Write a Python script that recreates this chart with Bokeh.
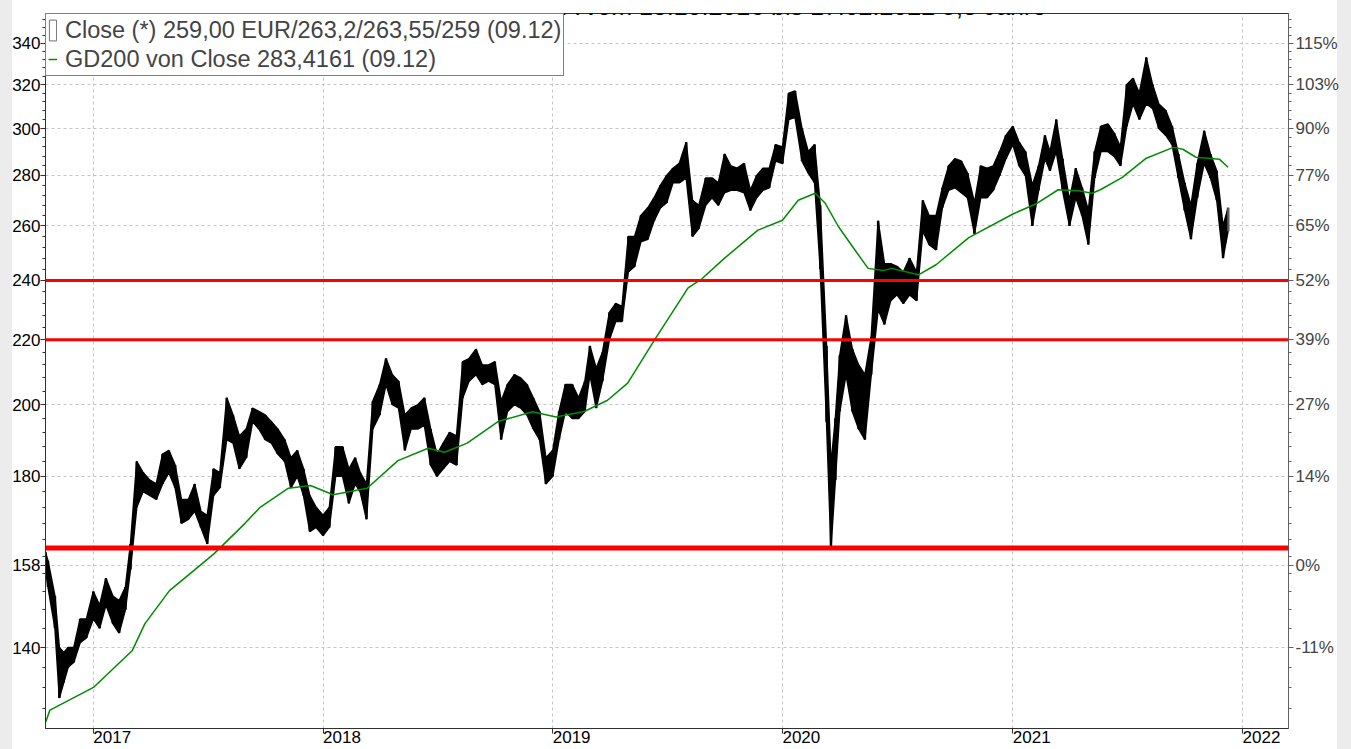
from datetime import datetime
import pandas as pd
from bokeh.plotting import figure
from bokeh.models import (FixedTicker, LogAxis, DatetimeAxis, Span, Legend, LegendItem, Label,
                          ColumnDataSource, PrintfTickFormatter)
from bokeh.embed import file_html
from bokeh.resources import INLINE

# ---------------- data ----------------
dates = ["2016-10-17", "2016-10-21", "2016-11-01", "2016-11-08", "2016-11-15", "2016-11-22",
         "2016-12-01", "2016-12-11", "2016-12-21",
         "2017-01-01", "2017-01-11", "2017-01-21", "2017-02-01", "2017-02-11", "2017-02-21",
         "2017-03-01", "2017-03-11", "2017-03-21", "2017-04-01", "2017-04-11", "2017-04-21",
         "2017-05-01", "2017-05-11", "2017-05-21", "2017-06-01", "2017-06-11", "2017-06-21",
         "2017-07-01", "2017-07-11", "2017-07-21", "2017-08-01", "2017-08-11", "2017-08-21",
         "2017-09-01", "2017-09-11", "2017-09-21", "2017-10-01", "2017-10-11", "2017-10-21",
         "2017-11-01", "2017-11-11", "2017-11-21", "2017-12-01", "2017-12-11", "2017-12-21",
         "2018-01-01", "2018-01-11", "2018-01-21", "2018-02-01", "2018-02-11", "2018-02-21",
         "2018-03-01", "2018-03-11", "2018-03-21", "2018-04-01", "2018-04-11", "2018-04-21",
         "2018-05-01", "2018-05-11", "2018-05-21", "2018-06-01", "2018-06-11", "2018-06-21",
         "2018-07-01", "2018-07-11", "2018-07-21", "2018-08-01", "2018-08-11", "2018-08-21",
         "2018-09-01", "2018-09-11", "2018-09-21", "2018-10-01", "2018-10-11", "2018-10-21",
         "2018-11-01", "2018-11-11", "2018-11-21", "2018-12-01", "2018-12-11", "2018-12-21",
         "2019-01-01", "2019-01-11", "2019-01-21", "2019-02-01", "2019-02-11", "2019-02-21",
         "2019-03-01", "2019-03-11", "2019-03-21", "2019-04-01", "2019-04-11", "2019-04-21",
         "2019-05-01", "2019-05-11", "2019-05-21", "2019-06-01", "2019-06-11", "2019-06-21",
         "2019-07-01", "2019-07-11", "2019-07-21", "2019-08-01", "2019-08-11", "2019-08-21",
         "2019-09-01", "2019-09-11", "2019-09-21", "2019-10-01", "2019-10-11", "2019-10-21",
         "2019-11-01", "2019-11-11", "2019-11-21", "2019-12-01", "2019-12-11", "2019-12-21",
         "2020-01-01", "2020-01-11", "2020-01-21", "2020-02-01", "2020-02-11", "2020-02-21",
         "2020-03-01", "2020-03-11", "2020-03-18", "2020-03-25", "2020-04-01", "2020-04-11",
         "2020-04-21", "2020-05-01", "2020-05-11", "2020-05-21", "2020-06-01", "2020-06-11",
         "2020-06-21", "2020-07-01", "2020-07-11", "2020-07-21", "2020-08-01", "2020-08-11",
         "2020-08-21", "2020-09-01", "2020-09-11", "2020-09-21", "2020-10-01", "2020-10-11",
         "2020-10-21", "2020-11-01", "2020-11-11", "2020-11-21", "2020-12-01", "2020-12-11",
         "2020-12-21", "2021-01-01", "2021-01-11", "2021-01-21", "2021-02-01", "2021-02-11",
         "2021-02-21", "2021-03-01", "2021-03-11", "2021-03-21", "2021-04-01", "2021-04-11",
         "2021-04-21", "2021-05-01", "2021-05-11", "2021-05-21", "2021-06-01", "2021-06-11",
         "2021-06-21", "2021-07-01", "2021-07-11", "2021-07-21", "2021-08-01", "2021-08-11",
         "2021-08-21", "2021-09-01", "2021-09-11", "2021-09-21", "2021-10-01", "2021-10-11",
         "2021-10-21", "2021-11-01", "2021-11-11", "2021-11-21", "2021-12-01", "2021-12-09"]

low = [157, 153, 144, 130, 133, 136,
       137, 141, 142,
       146, 144, 149, 145, 143, 148,
       157, 172, 176, 175, 174, 178,
       181, 177, 168, 169, 171, 167,
       163, 175, 177, 190, 189, 182,
       185, 195, 193, 190, 189, 186,
       184, 177, 180, 175, 166, 167,
       165, 167, 180, 180, 173, 178,
       176, 169, 193, 197, 206, 200,
       199, 187, 193, 193, 194, 183,
       180, 182, 184, 183, 202, 207,
       209, 206, 207, 206, 190, 198,
       200, 199, 197, 193, 190, 178,
       180, 190, 198, 196, 196, 198,
       209, 199, 207, 220, 226, 226,
       243, 245, 254, 255, 262, 267,
       269, 277, 277, 279, 256, 259,
       268, 271, 268, 273, 274, 274,
       273, 266, 271, 274, 275, 286,
       285, 304, 305, 286, 281, 277,
       244, 195, 162, 179, 198, 209,
       198, 193, 190, 209, 230, 225,
       233, 235, 232, 235, 233, 258,
       253, 251, 267, 274, 275, 273,
       271, 257, 271, 271, 274, 280,
       287, 293, 284, 280, 260, 274,
       287, 282, 290, 274, 260, 271,
       264, 253, 279, 290, 290, 288,
       284, 301, 311, 304, 311, 309,
       300, 297, 293, 279, 266, 255,
       271, 285, 279, 270, 248, 258]

high = [161, 159, 151, 140, 139, 140,
        140, 146, 146,
        152, 149, 155, 151, 150, 153,
        163, 184, 181, 179, 178, 186,
        187, 183, 174, 174, 178, 171,
        170, 182, 181, 202, 197, 191,
        193, 199, 198, 197, 195, 193,
        190, 185, 187, 182, 175, 172,
        170, 172, 188, 188, 182, 185,
        181, 178, 201, 206, 214, 209,
        207, 197, 199, 200, 202, 193,
        186, 189, 192, 191, 213, 214,
        217, 212, 212, 213, 201, 206,
        209, 208, 206, 202, 198, 185,
        187, 198, 206, 206, 202, 207,
        218, 211, 216, 229, 232, 231,
        256, 256, 264, 267, 271, 276,
        280, 283, 285, 294, 270, 268,
        279, 279, 277, 289, 284, 283,
        285, 274, 280, 283, 283, 293,
        292, 316, 317, 300, 290, 293,
        268, 218, 183, 196, 215, 228,
        217, 212, 209, 221, 262, 246,
        246, 245, 243, 248, 243, 270,
        264, 264, 275, 284, 287, 286,
        281, 269, 284, 283, 284, 290,
        297, 301, 294, 290, 276, 284,
        297, 290, 304, 287, 270, 283,
        275, 266, 290, 301, 302, 298,
        292, 320, 323, 316, 333, 320,
        311, 308, 301, 289, 277, 268,
        285, 299, 289, 282, 260, 267]

ma_dates = ["2016-10-17", "2016-10-24", "2016-11-06", "2017-01-02", "2017-03-04", "2017-03-24",
            "2017-05-02", "2017-06-10", "2017-07-12", "2017-08-30", "2017-09-23", "2017-11-07",
            "2017-12-12", "2018-01-17", "2018-03-12", "2018-04-30", "2018-06-17", "2018-07-13",
            "2018-08-18", "2018-10-06", "2018-11-30", "2019-01-06", "2019-02-20", "2019-03-29",
            "2019-04-30", "2019-06-12", "2019-07-22", "2019-08-04", "2019-08-26", "2019-10-01",
            "2019-11-23", "2020-01-01", "2020-01-26", "2020-02-22", "2020-03-09", "2020-03-30",
            "2020-04-22", "2020-05-16", "2020-06-09", "2020-06-22", "2020-08-04", "2020-09-01",
            "2020-10-23", "2021-01-02", "2021-02-07", "2021-03-14", "2021-04-15", "2021-05-07",
            "2021-05-20", "2021-06-24", "2021-08-01", "2021-09-13", "2021-09-28", "2021-10-19",
            "2021-11-08", "2021-11-25", "2021-12-09"]
ma_values = [125.4, 127.7, 128.5, 132.1, 139.4, 145.0,
             152.2, 156.8, 160.7, 168.0, 172.0, 176.9,
             177.6, 175.2, 176.9, 184.2, 187.6, 186.5,
             189.0, 195.1, 197.9, 196.4, 198.0, 201.3,
             206.4, 220.0, 233.0, 237.4, 240.6, 248.0,
             258.4, 262.2, 270.0, 272.8, 268.8, 259.7,
             252.0, 244.3, 243.5, 244.3, 242.0, 245.6,
             255.6, 264.7, 268.6, 274.2, 273.8, 272.8,
             274.2, 279.2, 287.2, 291.8, 291.0, 287.6,
             287.2, 286.8, 283.4]

support_levels = [240, 220, 162]
support_widths = [3, 3, 5]

left_ticks = [140, 158, 180, 200, 220, 240, 260, 280, 300, 320, 340]
right_labels = ["-11%", "0%", "14%", "27%", "39%", "52%", "65%", "77%", "90%", "103%", "115%"]
year_ticks = ["2017-01-01", "2018-01-01", "2019-01-01", "2020-01-01", "2021-01-01", "2022-01-01"]
year_labels = ["2017", "2018", "2019", "2020", "2021", "2022"]

title_text = "adidas AG XETR / XETRA vom 13.10.2016 bis 17.02.2022 5,3 Jahre"
legend_close = "Close (*) 259,00 EUR/263,2/263,55/259 (09.12)"
legend_ma = "GD200 von Close 283,4161 (09.12)"

FONT = "Liberation Sans"

# ---------------- figure ----------------
W, H = 1351, 749
page_bg = ("linear-gradient(to right, #ececec 0px, #ececec 12px, #ffffff 12px, "
           "#ffffff 1337px, #ececec 1337px, #ececec 1351px)")
p = figure(width=W, height=H, x_axis_type="datetime", y_axis_type="log",
           x_range=(datetime(2016, 10, 17), datetime(2022, 3, 15)),
           y_range=(124.3, 355.2),
           output_backend="svg", toolbar_location=None,
           min_border_left=45, min_border_right=63, min_border_top=13, min_border_bottom=21,
           background_fill_color="white", border_fill_color="white", border_fill_alpha=0,
           styles={"background": page_bg})
p.outline_line_color = "#303030"
p.outline_line_width = 1

# ticks
yt = FixedTicker(ticks=left_ticks, minor_ticks=list(range(124, 356, 4)))
year_ms = [pd.Timestamp(d).value / 1e6 for d in year_ticks]
xt = FixedTicker(ticks=year_ms, minor_ticks=[])

p.yaxis.ticker = yt
p.yaxis.formatter = PrintfTickFormatter(format="%d")
p.yaxis.major_label_text_font = FONT
p.yaxis.major_label_text_font_size = "17px"
p.yaxis.major_label_text_color = "#000000"
p.yaxis.major_label_standoff = 0
p.yaxis.major_tick_out = 5
p.yaxis.major_tick_in = 0
p.yaxis.minor_tick_out = 3
p.yaxis.minor_tick_in = 0
p.yaxis.axis_line_color = "#303030"
p.yaxis.major_tick_line_color = "#303030"
p.yaxis.minor_tick_line_color = "#303030"

ra = LogAxis(ticker=yt,
             major_label_overrides={float(t): lab for t, lab in zip(left_ticks, right_labels)},
             major_label_text_font=FONT, major_label_text_font_size="17px",
             major_label_standoff=2, major_tick_out=5, major_tick_in=0,
             minor_tick_out=3, minor_tick_in=0,
             axis_line_color="#606060", major_tick_line_color="#606060",
             minor_tick_line_color="#606060")
p.add_layout(ra, "right")

# bottom axis: tick marks at the year starts
xax = p.xaxis[0]
xax.ticker = xt
xax.major_label_overrides = {m: "" for m in year_ms}
xax.major_label_text_font_size = "0px"
xax.major_label_standoff = 0
xax.major_tick_out = 5
xax.major_tick_in = 0
xax.minor_tick_out = 0
xax.axis_line_color = "#303030"
xax.major_tick_line_color = "#303030"

# second bottom axis: year labels, printed to the right of each tick as in the reference
label_shift = pd.Timedelta(days=30)
label_ms = [(pd.Timestamp(d) + label_shift).value / 1e6 for d in year_ticks]
lab_axis = DatetimeAxis(ticker=FixedTicker(ticks=label_ms, minor_ticks=[]),
                        major_label_overrides={m: t for m, t in zip(label_ms, year_labels)},
                        major_label_text_font=FONT, major_label_text_font_size="17px",
                        major_label_text_color="black", major_label_standoff=-3,
                        major_tick_out=0, major_tick_in=0, minor_tick_out=0, minor_tick_in=0,
                        axis_line_color=None, major_tick_line_color=None,
                        minor_tick_line_color=None)
p.add_layout(lab_axis, "below")

p.ygrid.ticker = yt
p.xgrid.ticker = xt
for g in (p.xgrid, p.ygrid):
    g.grid_line_color = "#c4c4c4"
    g.grid_line_dash = "3 3"
    g.grid_line_width = 1

# ---------------- price bars ----------------
src = ColumnDataSource(dict(x=pd.to_datetime(dates), lo=low, hi=high))
p.varea(x="x", y1="lo", y2="hi", source=src, fill_color="black")
p.segment(x0="x", y0="lo", x1="x", y1="hi", source=src, line_color="black", line_width=2.5)
p.line(x="x", y="hi", source=src, line_color="black", line_width=1.5)
p.line(x="x", y="lo", source=src, line_color="black", line_width=1.5)

# last bar, also used as the legend symbol of the close series
last = ColumnDataSource(dict(x=pd.to_datetime(dates[-1:]), lo=low[-1:], hi=high[-1:]))
bar_r = p.quad(left="x", right="x", bottom="lo", top="hi", source=last,
               fill_color=None, line_color="#707070", line_width=1)

# moving average
ma = p.line(pd.to_datetime(ma_dates), ma_values, line_color="#008c00", line_width=1.5)

# support lines
for lv, lw in zip(support_levels, support_widths):
    p.add_layout(Span(location=lv, dimension="width", line_color="#ff0000", line_width=lw))

# legend
legend = Legend(items=[LegendItem(label=legend_close, renderers=[bar_r]),
                       LegendItem(label=legend_ma, renderers=[ma])],
                location="top_left", margin=0, padding=2, spacing=1,
                glyph_width=9, glyph_height=26, label_height=28, label_standoff=8,
                label_text_font=FONT, label_text_font_size="23.5px",
                border_line_color="#000000", border_line_width=1,
                background_fill_color="white", background_fill_alpha=1)
p.add_layout(legend)

# title (cut off at the top as in the reference)
p.add_layout(Label(x=667, y=5, x_units="canvas", y_units="canvas", text=title_text,
                   text_align="center", text_baseline="alphabetic",
                   text_font=FONT, text_font_size="25px", text_color="black"))

open("out.html", "w").write(file_html(p, INLINE))
